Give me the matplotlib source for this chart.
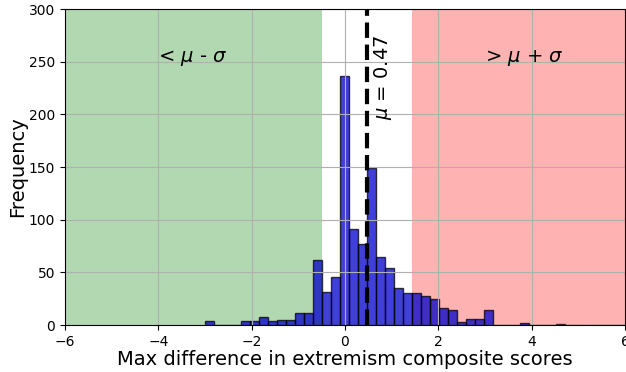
import numpy as np
import matplotlib
matplotlib.use("Agg")
import matplotlib.pyplot as plt

# histogram counts (bin width ~0.193, first edge at -3.0)
bin_start = -3.0
bin_width = 0.1929
counts = [4, 0, 0, 0, 4, 4, 8, 4, 5, 5,
          11, 11, 62, 31, 46, 236, 91, 77, 149, 65,
          54, 35, 30, 30, 28, 25, 16, 14, 3, 6,
          6, 14, 0, 0, 0, 2, 0, 0, 0, 1,
          0, 0, 0, 0, 0, 0, 0, 0, 0, 0]

mu = 0.47
sigma = 0.963

edges = bin_start + bin_width * np.arange(len(counts) + 1)
centers = (edges[:-1] + edges[1:]) / 2

fig, ax = plt.subplots(figsize=(6.26, 3.72), dpi=100)
fig.subplots_adjust(left=0.1038, right=0.9984, top=0.9758, bottom=0.1263)

ax.axvspan(-6, mu - sigma, color='green', alpha=0.3, lw=0)
ax.axvspan(mu + sigma, 6, color='red', alpha=0.3, lw=0)

ax.hist(centers, bins=edges, weights=counts, color='mediumblue', alpha=0.75,
        edgecolor='black')
ax.axvline(mu, color='black', linestyle='--', linewidth=3)

ax.text(-4, 250, r'< $\mu$ - $\sigma$', fontsize=14, va='baseline')
ax.text(3, 250, r'> $\mu$ + $\sigma$', fontsize=14, va='baseline')
ax.text(mu + 0.1, 195, r'$\mu$ = 0.47', fontsize=14, rotation=90,
        ha='left', va='bottom')

ax.set_xlim(-6, 6)
ax.set_ylim(0, 300)
ax.set_xticks(np.arange(-6, 7, 2))
ax.set_yticks(np.arange(0, 301, 50))
ax.tick_params(labelsize=10)
ax.grid(True)
ax.set_xlabel('Max difference in extremism composite scores', fontsize=14,
              labelpad=1)
ax.set_ylabel('Frequency', fontsize=14, labelpad=1)

fig.savefig('out.png', dpi=100)
